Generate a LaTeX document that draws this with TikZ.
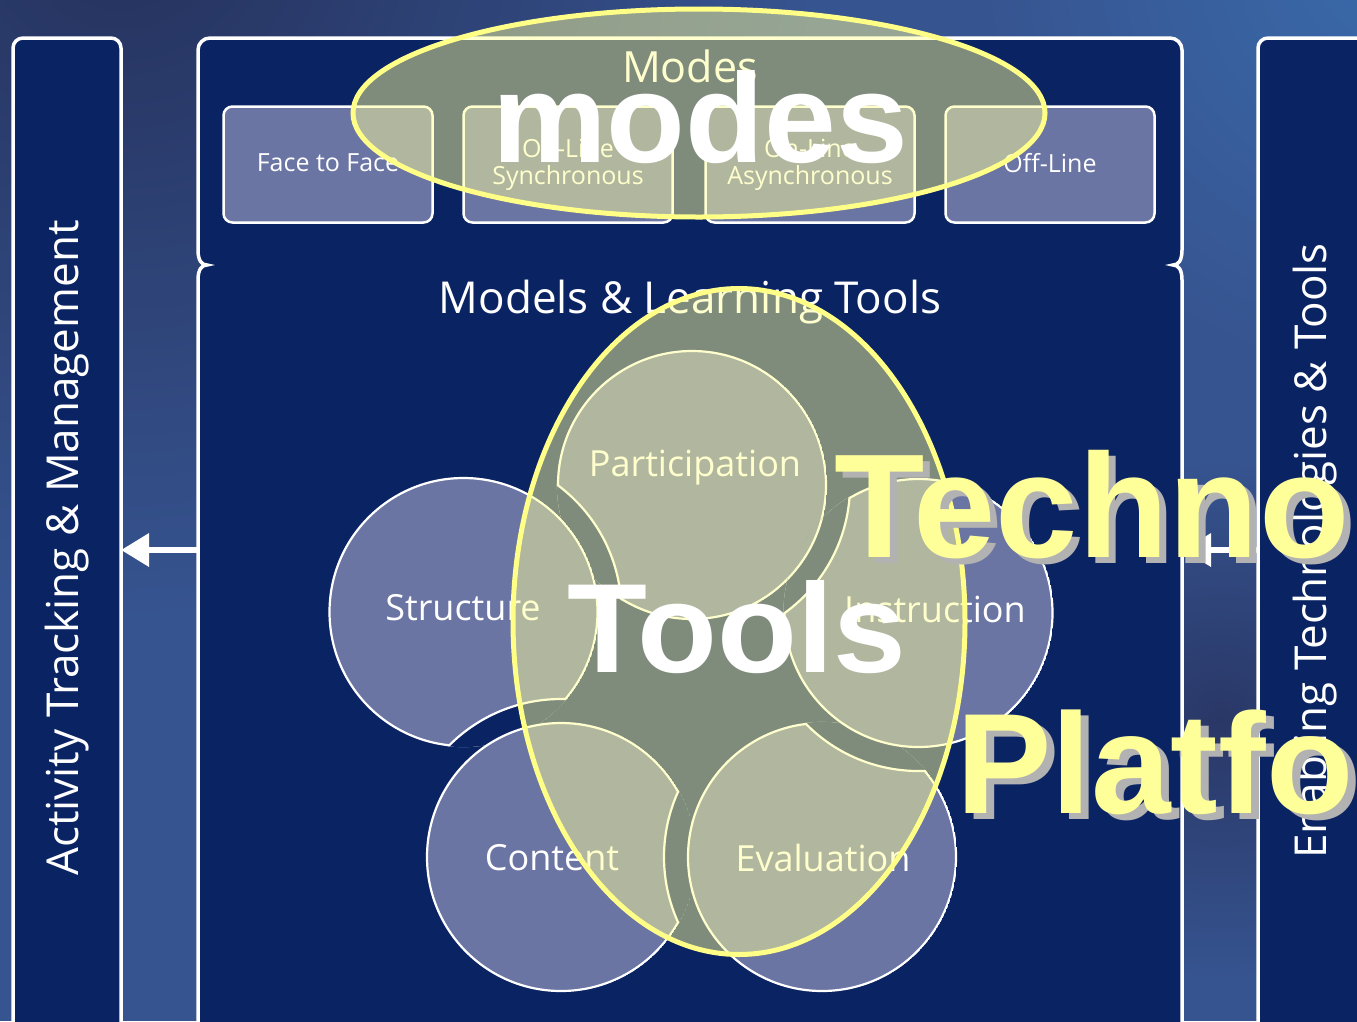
\documentclass[tikz,border=0pt]{standalone}
\usepackage{fontspec}
\setmainfont{Open Sans}
\newfontfamily\arialf{Liberation Sans}
\usetikzlibrary{arrows.meta}
\definecolor{navy}{RGB}{10,35,98}
\definecolor{slate}{RGB}{107,117,163}
\definecolor{hl}{RGB}{255,255,153}
\definecolor{hlline}{RGB}{255,255,136}
\definecolor{bgbase}{RGB}{54,84,144}
\definecolor{bgdark}{RGB}{37,49,92}
\definecolor{bgdark2}{RGB}{41,55,102}
\definecolor{bglight}{RGB}{58,106,170}
\definecolor{shadowgray}{RGB}{178,178,178}
\newcommand\drawpetal[2]{%
  \begin{scope}
    \clip (#1) circle[radius=135.1pt];
    \fill[slate, draw=white, line width=2.2pt] (#1) circle[radius=134pt];
    \fill[navy, draw=white, line width=2.2pt] (#2) circle[radius=158pt];
  \end{scope}}
\begin{document}
\begin{tikzpicture}[x=1pt,y=-1pt,
  panel/.style={fill=navy, draw=white, line width=3.5pt, rounded corners=10pt},
  modebox/.style={draw=white, fill=slate, line width=2.5pt, rounded corners=9pt,
    minimum width=209pt, minimum height=116pt, inner sep=0pt, text=white,
    font=\fontsize{25}{31}\selectfont, align=center},
  lbl/.style={text=white, inner sep=0pt},
  petallbl/.style={text=white, inner sep=0pt, font=\fontsize{36}{40}\selectfont},
  sidelbl/.style={text=white, inner sep=0pt, rotate=90, font=\fontsize{44}{48}\selectfont},
  ovl/.style={fill=hl, fill opacity=0.48, draw=hlline, draw opacity=1, line width=5pt},
  bigwhite/.style={text=white, inner sep=0pt, font=\arialf\bfseries\fontsize{127}{130}\selectfont},
  bigyellow/.style={text=hl, inner sep=0pt},
  bigshadow/.style={text=shadowgray, inner sep=0pt},
  techfont/.style={font=\arialf\bfseries\fontsize{148}{150}\selectfont},
  platfont/.style={font=\arialf\bfseries\fontsize{143}{145}\selectfont},
  wharrow/.style={draw=white, line width=6.5pt, -{Triangle[length=28pt,width=32pt]}}
]
\useasboundingbox (0,0) rectangle (1357,1021);
\clip (0,0) rectangle (1357,1021);
% background
\fill[bgbase] (0,0) rectangle (1357,1021);
\shade[inner color=bgdark, outer color=bgbase] (120,-80) circle[radius=700pt];
\shade[inner color=bglight, outer color=bgbase] (1400,-40) circle[radius=420pt];
\shade[inner color=bgdark2, outer color=bgbase] (1220,720) circle[radius=260pt];
% side panels
\draw[panel] (13,38) rectangle (121,1060);
\draw[panel] (1258,38) rectangle (1420,1060);
% centre panel with brace notches
\draw[fill=navy, draw=white, line width=3.5pt]
  (210,38) -- (1170,38) arc[start angle=90, end angle=0, radius=12pt]
  -- (1182,250) .. controls (1182,261) and (1178,265) .. (1173,265)
  .. controls (1178,265) and (1182,269) .. (1182,280) -- (1182,1060)
  -- (198,1060) -- (198,280) .. controls (198,269) and (202,265) .. (207,265)
  .. controls (202,265) and (198,261) .. (198,250) -- (198,50)
  arc[start angle=180, end angle=90, radius=12pt] -- cycle;
% mode boxes
\node[modebox] (ftf) at (328,164.5) {\raisebox{4pt}{Face to Face}};
\node[modebox] (ols) at (568,164.5) {On-Line\\[-4pt]Synchronous};
\node[modebox] (ola) at (810,164.5) {On-Line\\[-4pt]Asynchronous};
\node[modebox] (ofl) at (1050,164.5) {\raisebox{4pt}{Off-Line}};
% titles
\node[lbl, font=\fontsize{43}{46}\selectfont] (modes) at (690,66) {Modes};
\node[lbl, font=\fontsize{44}{46}\selectfont] (mlt) at (690,302) {Models \& Learning Tools};
% side labels
\node[sidelbl] (atm) at (67,548) {Activity Tracking \& Management};
\node[sidelbl] (ett) at (1315,551) {Enabling Technologies \& Tools};
% petals
\coordinate (cP) at (692,485);
\coordinate (cS) at (463.5,612);
\coordinate (cI) at (918.5,613);
\coordinate (cC) at (561,857);
\coordinate (cE) at (822,857);
\drawpetal{cP}{cS}
\drawpetal{cS}{cC}
\drawpetal{cC}{cE}
\drawpetal{cE}{cI}
\drawpetal{cI}{cP}
\begin{scope}
  \clip (cI) circle[radius=135.1pt];
  \fill[slate, draw=white, line width=2.2pt] (cP) circle[radius=134pt];
\end{scope}
\node[petallbl] (lP) at (695,468) {Participation};
\node[petallbl] (lS) at (463,608) {Structure};
\node[petallbl] (lI) at (935,609) {Instruction};
\node[petallbl] (lC) at (552,858) {Content};
\node[petallbl] (lE) at (823,858) {Evaluation};
% arrows
\coordinate (aLs) at (197,550);
\coordinate (aLe) at (121,550);
\coordinate (aRs) at (1258,550);
\coordinate (aRe) at (1183,550);
\draw[wharrow] (aLs) -- (aLe);
\draw[wharrow] (aRs) -- (aRe);
% overlays
\draw[ovl] (699,113) ellipse[x radius=346pt, y radius=104pt];
\draw[ovl] (739,621.5) ellipse[x radius=226pt, y radius=333pt];
% big texts
\node[bigwhite, anchor=base, xscale=1.015] (wmodes) at (700,162) {modes};
\node[bigwhite, anchor=base, xscale=1.03] (wtools) at (737,672) {Tools};
\node[bigshadow, techfont, anchor=base west] (sTech) at (841,563) {Technology};
\node[bigyellow, techfont, anchor=base west] (yTech) at (834,557) {Technology};
\node[bigshadow, platfont, anchor=base west] (sPlat) at (964,819) {Platform};
\node[bigyellow, platfont, anchor=base west] (yPlat) at (956,813) {Platform};
\end{tikzpicture}
\end{document}
